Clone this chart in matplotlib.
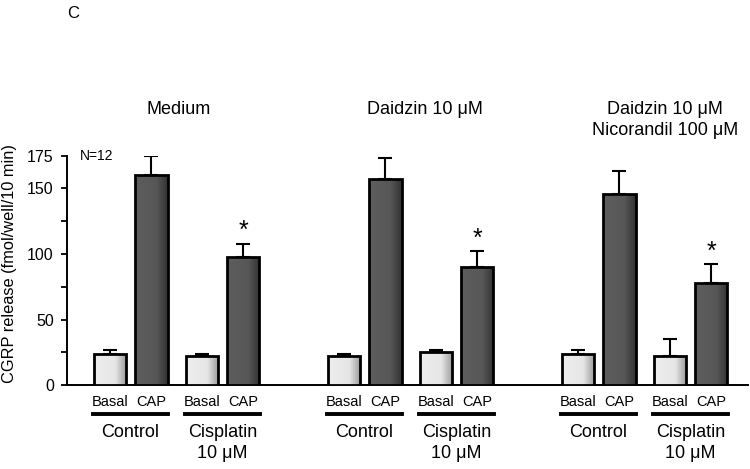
import numpy as np
from matplotlib import pyplot as plt
from matplotlib.colors import LinearSegmentedColormap

plt.rcParams['font.family'] = ['Liberation Sans', 'DejaVu Sans']

panel_titles = ['Medium', 'Daidzin 10 μM', 'Daidzin 10 μM\nNicorandil 100 μM']
group_labels = ['Control', 'Cisplatin\n10 μM']
bar_labels = ['Basal', 'CAP']

# mean values per panel: [control basal, control CAP, cisplatin basal, cisplatin CAP]
means = [
    [24, 160, 22.5, 98],
    [22.5, 157, 25, 90],
    [24, 146, 22.5, 78],
]
errors = [
    [2.5, 15, 1.5, 10],
    [1.5, 16, 2, 12],
    [2.5, 17, 12.5, 14],
]
significant = [
    [False, False, False, True],
    [False, False, False, True],
    [False, False, False, True],
]

fig = plt.figure(figsize=(7.5, 4.69), dpi=100)
ax = fig.add_axes([0.0893, 0.179, 0.908, 0.489])

panel_step = 5.7
pair_step = 2.24
width = 0.8
title_shift = [0.06, 0.36, 0.5]

# light basal bars and dark CAP bars, both shaded toward the right edge
cmaps = [
    LinearSegmentedColormap.from_list('basal', [(0, '#eeeeee'), (0.65, '#e6e6e6'), (1, '#9a9a9a')]),
    LinearSegmentedColormap.from_list('cap', [(0, '#5e5e5e'), (0.65, '#575757'), (1, '#333333')]),
]

xs = []
for p in range(3):
    for g in range(2):
        for b in range(2):
            xs.append(p * panel_step + g * pair_step + b)
xs = np.array(xs)
vals = np.array(means).ravel()
errs = np.array(errors).ravel()

bars = ax.bar(xs, vals, width=width, color='none', edgecolor='black',
              linewidth=2.0, zorder=4)
grad = np.linspace(0, 1, 64).reshape(1, -1)
for i, bar in enumerate(bars):
    x0, w, h = bar.get_x(), bar.get_width(), bar.get_height()
    im = ax.imshow(grad, cmap=cmaps[i % 2], extent=[x0, x0 + w, 0, h],
                   aspect='auto', zorder=3, interpolation='bilinear')
    im.set_clip_path(bar)

ax.errorbar(xs, vals, yerr=[np.zeros_like(errs), errs], fmt='none',
            ecolor='black', elinewidth=1.5, capsize=5, capthick=1.5, zorder=2)

sig = np.array(significant).ravel()
for x, v, e, s in zip(xs, vals, errs, sig):
    if s:
        ax.text(x, v + e + 9.5, '*', ha='center', va='center', fontsize=18)

ax.set_xlim(-1.05, xs[-1] + 0.9)
ax.set_ylim(0, 175)
ax.set_yticks([0, 50, 100, 150, 175])
ax.set_yticks([25, 75, 125], minor=True)
ax.tick_params(axis='y', which='both', direction='out', length=4.5, width=1.3,
               labelsize=11.5, pad=5)
ax.set_xticks([])
for side in ['top', 'right']:
    ax.spines[side].set_visible(False)
ax.spines['left'].set_linewidth(1.4)
ax.spines['bottom'].set_linewidth(1.4)
ax.set_ylabel('CGRP release (fmol/well/10 min)', fontsize=11.8)
ax.yaxis.set_label_coords(-0.073, 0.53)

tr = ax.get_xaxis_transform()
for p in range(3):
    for g in range(2):
        x0 = p * panel_step + g * pair_step
        for b in range(2):
            ax.text(x0 + b, -0.074, bar_labels[b], transform=tr, ha='center',
                    va='center', fontsize=10.5)
        ax.plot([x0 - 0.42, x0 + 1.42], [-0.127, -0.127], transform=tr,
                color='black', linewidth=2.8, clip_on=False)
        ax.text(x0 + 0.5, -0.172, group_labels[g], transform=tr, ha='center',
                va='top', fontsize=13, linespacing=1.25)
    xc = p * panel_step + (pair_step + 1) / 2 + title_shift[p]
    ax.text(xc, 1.24, panel_titles[p], transform=tr, ha='center', va='top',
            fontsize=13, linespacing=1.3)

ax.text(-0.73, 1.0, 'N=12', transform=tr, ha='left', va='center', fontsize=10)
fig.text(0.09, 0.972, 'C', ha='left', va='center', fontsize=12)

fig.savefig('out.png', dpi=100)
